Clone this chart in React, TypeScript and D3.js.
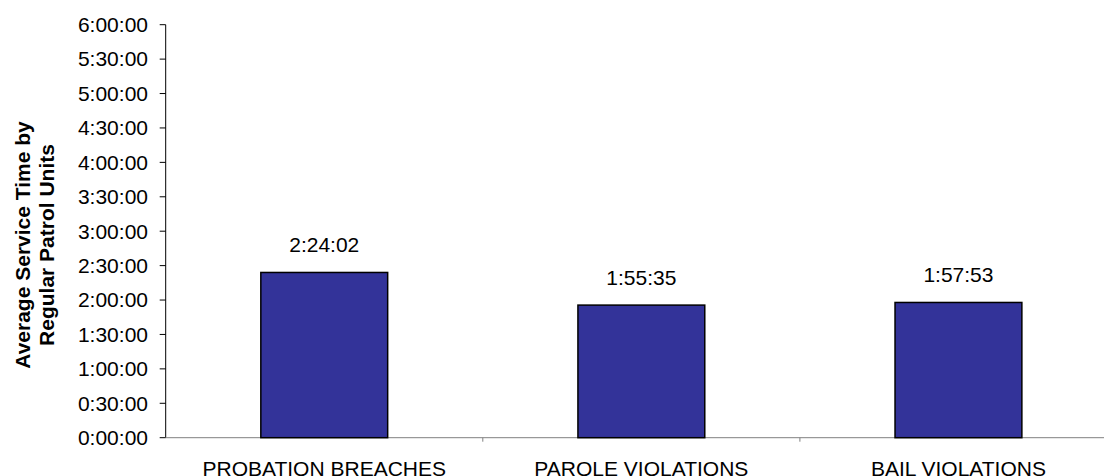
import React from 'react';
import * as d3 from 'd3';

const categories = ['PROBATION BREACHES', 'PAROLE VIOLATIONS', 'BAIL VIOLATIONS'];
// average service time, in seconds
const serviceSeconds = [8642, 6935, 7073];
const tickSeconds = d3.range(0, 21601, 1800);

const W = 1104;
const H = 476;
const left = 165.7;
const right = 1117;
const top = 24.7;
const bottom = 437.7;
const FONT = 'Arial, "Liberation Sans", sans-serif';

function fmt(sec: number) {
  const h = Math.floor(sec / 3600);
  const m = Math.floor((sec % 3600) / 60);
  const s = Math.round(sec % 60);
  return `${h}:${String(m).padStart(2, '0')}:${String(s).padStart(2, '0')}`;
}

export default function App() {
  const x = d3.scaleBand<string>().domain(categories).range([left, right]).paddingInner(0.6).paddingOuter(0.3);
  const y = d3.scaleLinear().domain([0, 21600]).range([bottom, top]);
  const step = x.step();

  return (
    <svg width={W} height={H} style={{ position: 'absolute', left: 0, top: 0, background: '#fff' }} fontFamily={FONT}>
      {/* y axis title */}
      <g transform="translate(30,245) rotate(-90)" fontWeight="bold" fontSize={21} textAnchor="middle">
        <text y={0}>Average Service Time by</text>
        <text y={24}>Regular Patrol Units</text>
      </g>

      {/* y axis */}
      <line x1={left} x2={left} y1={top} y2={bottom} stroke="#000" strokeWidth={1} />
      {tickSeconds.map((t) => (
        <g key={t} transform={`translate(0,${y(t)})`}>
          <line x1={left - 6} x2={left} stroke="#000" />
          <text x={148} dy="0.35em" textAnchor="end" fontSize={21}>
            {fmt(t)}
          </text>
        </g>
      ))}

      {/* x axis */}
      <line x1={left} x2={right} y1={bottom} y2={bottom} stroke="#808080" strokeWidth={1} />
      {[1, 2].map((k) => (
        <line key={k} x1={left + k * step} x2={left + k * step} y1={bottom} y2={bottom + 4} stroke="#808080" />
      ))}

      {categories.map((c, i) => (
        <g key={c}>
          <rect
            x={x(c)}
            y={y(serviceSeconds[i])}
            width={x.bandwidth()}
            height={bottom - y(serviceSeconds[i])}
            fill="#333399"
            stroke="#000"
            strokeWidth={1.5}
          />
          <text x={x(c)! + x.bandwidth() / 2} y={y(serviceSeconds[i]) - 20} textAnchor="middle" fontSize={21}>
            {fmt(serviceSeconds[i])}
          </text>
          <text x={x(c)! + x.bandwidth() / 2} y={476} textAnchor="middle" fontSize={21}>
            {c}
          </text>
        </g>
      ))}
    </svg>
  );
}
